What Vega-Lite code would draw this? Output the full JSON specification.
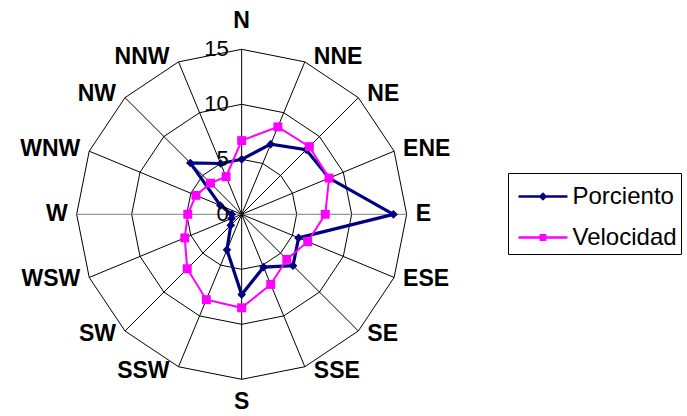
{
  "$schema": "https://vega.github.io/schema/vega-lite/v6.json",
  "width": 687,
  "height": 416,
  "autosize": {"type": "none"},
  "padding": 0,
  "background": "white",
  "config": {"view": {"stroke": null}, "font": "Liberation Sans"},
  "datasets": {
    "wind": [
      {"dir": "N", "i": 0, "Porciento": 5.0, "Velocidad": 6.7},
      {"dir": "NNE", "i": 1, "Porciento": 6.9, "Velocidad": 8.6},
      {"dir": "NE", "i": 2, "Porciento": 8.3, "Velocidad": 8.7},
      {"dir": "ENE", "i": 3, "Porciento": 8.6, "Velocidad": 8.6},
      {"dir": "E", "i": 4, "Porciento": 13.8, "Velocidad": 7.6},
      {"dir": "ESE", "i": 5, "Porciento": 5.6, "Velocidad": 6.5},
      {"dir": "SE", "i": 6, "Porciento": 6.6, "Velocidad": 5.8},
      {"dir": "SSE", "i": 7, "Porciento": 5.2, "Velocidad": 6.9},
      {"dir": "S", "i": 8, "Porciento": 7.3, "Velocidad": 8.5},
      {"dir": "SSW", "i": 9, "Porciento": 3.5, "Velocidad": 8.4},
      {"dir": "SW", "i": 10, "Porciento": 1.4, "Velocidad": 7.0},
      {"dir": "WSW", "i": 11, "Porciento": 1.0, "Velocidad": 5.6},
      {"dir": "W", "i": 12, "Porciento": 0.9, "Velocidad": 4.9},
      {"dir": "WNW", "i": 13, "Porciento": 2.1, "Velocidad": 4.5},
      {"dir": "NW", "i": 14, "Porciento": 6.6, "Velocidad": 4.0},
      {"dir": "NNW", "i": 15, "Porciento": 5.0, "Velocidad": 3.7}
    ],
    "ticks": [
      {"ring": 0, "label": "0"},
      {"ring": 5, "label": "5"},
      {"ring": 10, "label": "10"},
      {"ring": 15, "label": "15"}
    ]
  },
  "layer": [
    {
      "data": {"name": "wind"},
      "transform": [
        {"calculate": "[5, 10, 15]", "as": "ring"},
        {"flatten": ["ring"]},
        {"calculate": "datum.i * PI / 8", "as": "theta"},
        {"calculate": "datum.ring * sin(datum.theta)", "as": "x"},
        {"calculate": "datum.ring * cos(datum.theta)", "as": "y"}
      ],
      "mark": {"type": "line", "interpolate": "linear-closed", "stroke": "#000000", "strokeWidth": 1},
      "encoding": {
        "x": {"field": "x", "type": "quantitative", "scale": {"domain": [-21.97, 40.4845], "nice": false, "zero": false}, "axis": null},
        "y": {"field": "y", "type": "quantitative", "scale": {"domain": [-18.336, 19.482], "nice": false, "zero": false}, "axis": null},
        "detail": {"field": "ring", "type": "nominal"},
        "order": {"field": "i", "type": "quantitative"}
      }
    },
    {
      "data": {"name": "wind"},
      "transform": [
        {"calculate": "datum.i * PI / 8", "as": "theta"},
        {"calculate": "15 * sin(datum.theta)", "as": "x"},
        {"calculate": "15 * cos(datum.theta)", "as": "y"}
      ],
      "mark": {"type": "rule", "strokeWidth": 1},
      "encoding": {
        "x": {"field": "x", "type": "quantitative"},
        "y": {"field": "y", "type": "quantitative"},
        "x2": {"datum": 0},
        "y2": {"datum": 0},
        "stroke": {"condition": {"test": "datum.i == 4 || datum.i == 12", "value": "#808080"}, "value": "#000000"}
      }
    },
    {
      "data": {"name": "wind"},
      "transform": [
        {"calculate": "datum.i * PI / 8", "as": "theta"},
        {"calculate": "datum.Porciento * sin(datum.theta)", "as": "x"},
        {"calculate": "datum.Porciento * cos(datum.theta)", "as": "y"}
      ],
      "layer": [
        {
          "mark": {"type": "line", "interpolate": "linear-closed", "stroke": "#000080", "strokeWidth": 3.2},
          "encoding": {
            "x": {"field": "x", "type": "quantitative"},
            "y": {"field": "y", "type": "quantitative"},
            "order": {"field": "i", "type": "quantitative"}
          }
        },
        {
          "mark": {"type": "point", "shape": "diamond", "filled": true, "size": 75, "color": "#000080", "opacity": 1},
          "encoding": {
            "x": {"field": "x", "type": "quantitative"},
            "y": {"field": "y", "type": "quantitative"}
          }
        }
      ]
    },
    {
      "data": {"name": "wind"},
      "transform": [
        {"calculate": "datum.i * PI / 8", "as": "theta"},
        {"calculate": "datum.Velocidad * sin(datum.theta)", "as": "x"},
        {"calculate": "datum.Velocidad * cos(datum.theta)", "as": "y"}
      ],
      "layer": [
        {
          "mark": {"type": "line", "interpolate": "linear-closed", "stroke": "#FF00FF", "strokeWidth": 2},
          "encoding": {
            "x": {"field": "x", "type": "quantitative"},
            "y": {"field": "y", "type": "quantitative"},
            "order": {"field": "i", "type": "quantitative"}
          }
        },
        {
          "mark": {"type": "point", "shape": "square", "filled": true, "size": 80, "color": "#FF00FF", "opacity": 1},
          "encoding": {
            "x": {"field": "x", "type": "quantitative"},
            "y": {"field": "y", "type": "quantitative"}
          }
        }
      ]
    },
    {
      "data": {"name": "wind"},
      "transform": [
        {"fold": ["Porciento", "Velocidad"], "as": ["series", "value"]},
        {"filter": "datum.value < 0"}
      ],
      "mark": {"type": "point", "filled": true, "opacity": 1},
      "encoding": {
        "x": {"field": "value", "type": "quantitative"},
        "y": {"field": "value", "type": "quantitative"},
        "fill": {
          "field": "series", "type": "nominal",
          "scale": {"domain": ["Porciento", "Velocidad"], "range": ["#000080", "#FF00FF"]},
          "legend": {
            "title": null,
            "orient": "none",
            "legendX": 508,
            "legendY": 173,
            "padding": 4,
            "strokeColor": "#000000",
            "symbolSize": 1296,
            "symbolOffset": 11.5,
            "symbolStrokeWidth": 2.5,
            "labelOffset": 10,
            "labelFontSize": 24,
            "labelFont": "Liberation Sans",
            "labelColor": "#000000",
            "rowPadding": 9
          }
        },
        "stroke": {
          "field": "series", "type": "nominal",
          "scale": {"domain": ["Porciento", "Velocidad"], "range": ["#000080", "#FF00FF"]}
        },
        "shape": {
          "field": "series", "type": "nominal",
          "scale": {"domain": ["Porciento", "Velocidad"], "range": ["M-1.36,0H1.36M-0.14,0L0,-0.14L0.14,0L0,0.14Z", "M-1.36,0H1.36M-0.12,-0.12H0.12V0.12H-0.12Z"]}
        }
      }
    },
    {
      "data": {"name": "ticks"},
      "mark": {"type": "text", "align": "right", "baseline": "middle", "dx": -13, "fontSize": 22, "font": "Liberation Sans", "color": "#000000"},
      "encoding": {
        "x": {"datum": 0},
        "y": {"field": "ring", "type": "quantitative"},
        "text": {"field": "label"}
      }
    },
    {
      "data": {"name": "wind"},
      "transform": [
        {"filter": "datum.i > 0 && datum.i < 8"},
        {"calculate": "datum.i * PI / 8", "as": "theta"},
        {"calculate": "15 * sin(datum.theta)", "as": "x"},
        {"calculate": "15.45 * cos(datum.theta)", "as": "y"}
      ],
      "mark": {"type": "text", "align": "left", "baseline": "middle", "dx": 9, "fontSize": 23, "fontWeight": "bold", "font": "Liberation Sans", "color": "#000000"},
      "encoding": {
        "x": {"field": "x", "type": "quantitative"},
        "y": {"field": "y", "type": "quantitative"},
        "text": {"field": "dir"}
      }
    },
    {
      "data": {"name": "wind"},
      "transform": [
        {"filter": "datum.i > 8"},
        {"calculate": "datum.i * PI / 8", "as": "theta"},
        {"calculate": "15 * sin(datum.theta)", "as": "x"},
        {"calculate": "15.45 * cos(datum.theta)", "as": "y"}
      ],
      "mark": {"type": "text", "align": "right", "baseline": "middle", "dx": -9, "fontSize": 23, "fontWeight": "bold", "font": "Liberation Sans", "color": "#000000"},
      "encoding": {
        "x": {"field": "x", "type": "quantitative"},
        "y": {"field": "y", "type": "quantitative"},
        "text": {"field": "dir"}
      }
    },
    {
      "data": {"name": "wind"},
      "transform": [
        {"filter": "datum.i == 0 || datum.i == 8"},
        {"calculate": "datum.i == 0 ? 17.6 : -17.1", "as": "y"}
      ],
      "mark": {"type": "text", "align": "center", "baseline": "middle", "fontSize": 23, "fontWeight": "bold", "font": "Liberation Sans", "color": "#000000"},
      "encoding": {
        "x": {"datum": 0},
        "y": {"field": "y", "type": "quantitative"},
        "text": {"field": "dir"}
      }
    }
  ]
}
